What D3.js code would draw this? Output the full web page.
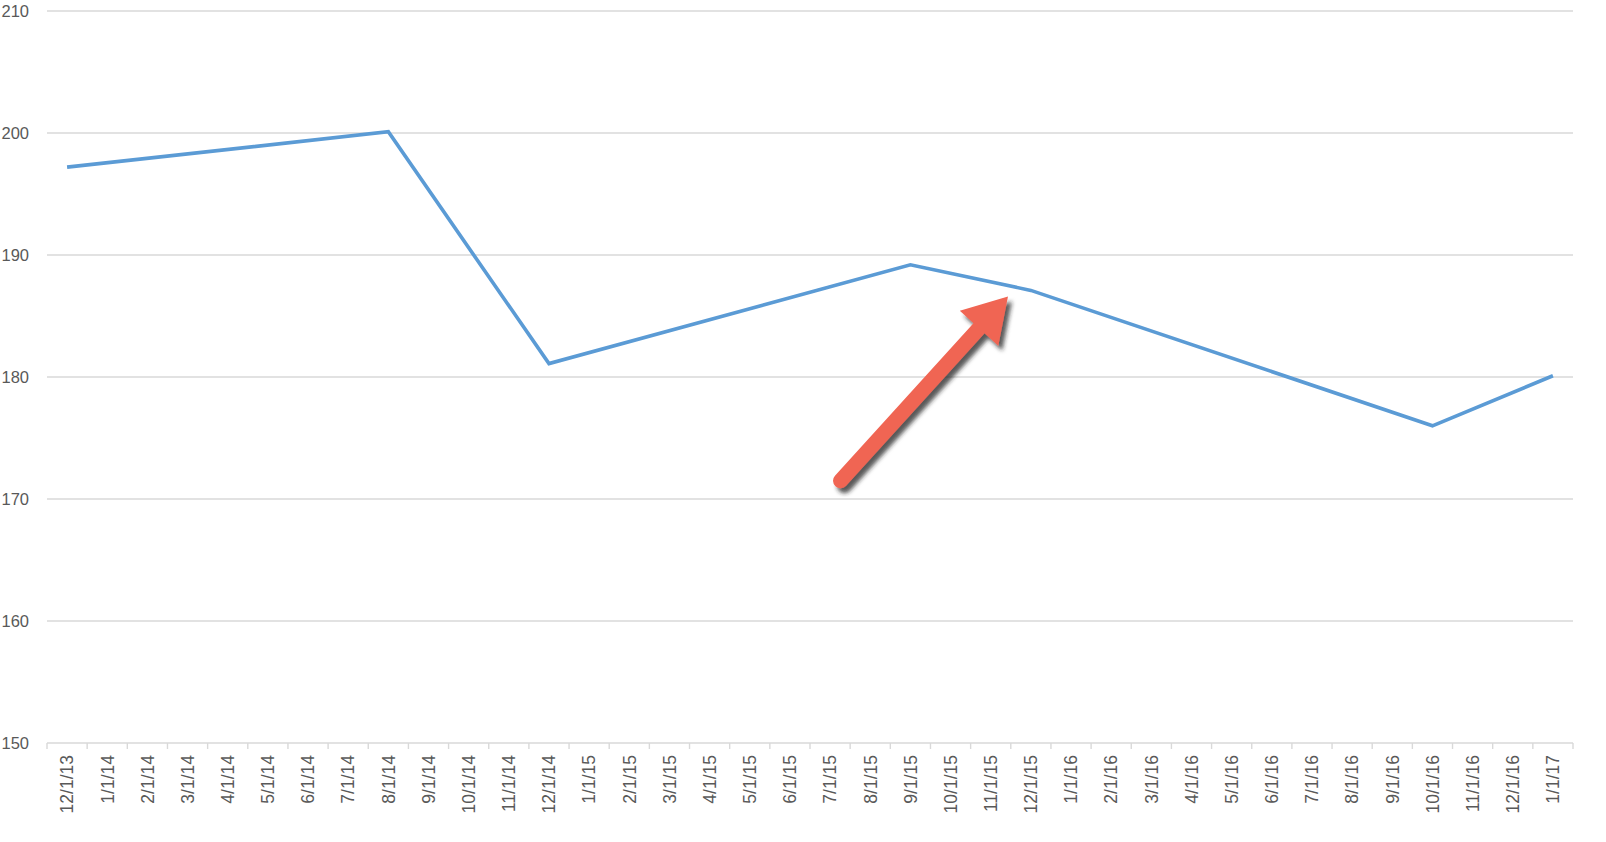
<!DOCTYPE html>
<html>
<head>
<meta charset="utf-8">
<script src="https://cdn.jsdelivr.net/npm/d3@7"></script>
<style>
    html, body { margin: 0; padding: 0; background: #fff; }
    #chart { width: 1606px; height: 842px; }
</style>
</head>
<body>
<div id="chart"></div>
<script>
// Month labels on the category axis
const categories = [
    "12/1/13", "1/1/14", "2/1/14", "3/1/14", "4/1/14", "5/1/14", "6/1/14", "7/1/14",
    "8/1/14", "9/1/14", "10/1/14", "11/1/14", "12/1/14", "1/1/15", "2/1/15", "3/1/15",
    "4/1/15", "5/1/15", "6/1/15", "7/1/15", "8/1/15", "9/1/15", "10/1/15", "11/1/15",
    "12/1/15", "1/1/16", "2/1/16", "3/1/16", "4/1/16", "5/1/16", "6/1/16", "7/1/16",
    "8/1/16", "9/1/16", "10/1/16", "11/1/16", "12/1/16", "1/1/17"
];

// Only the measured months carry a value; the line connects across the gaps
const pointDates = ["12/1/13", "8/1/14", "12/1/14", "9/1/15", "12/1/15", "10/1/16", "1/1/17"];
const pointValues = [197.2, 200.1, 181.1, 189.2, 187.1, 176.0, 180.1];

const yTicks = [150, 160, 170, 180, 190, 200, 210];
const yDomain = [150, 210];

// Callout arrow, in data terms: category, fraction of a band, value
const arrowFrom = { cat: "7/1/15", frac: 0.76, value: 171.5 };
const arrowTo = { cat: "11/1/15", frac: 0.93, value: 186.6 };

const width = 1606;
const height = 842;
const margin = { top: 11, right: 33, bottom: 99, left: 47 };

const svg = d3.select("#chart").append("svg")
    .attr("width", width)
    .attr("height", height)
    .attr("viewBox", [0, 0, width, height]);

const x = d3.scaleBand()
    .domain(categories)
    .range([margin.left, width - margin.right])
    .paddingInner(0)
    .paddingOuter(0);

const y = d3.scaleLinear()
    .domain(yDomain)
    .range([height - margin.bottom, margin.top]);

const gridColor = "#d9d9d9";
const textColor = "#595959";

// Horizontal gridlines
svg.append("g")
    .selectAll("line")
    .data(yTicks)
    .join("line")
    .attr("x1", margin.left)
    .attr("x2", width - margin.right)
    .attr("y1", d => y(d))
    .attr("y2", d => y(d))
    .attr("stroke", gridColor)
    .attr("stroke-width", 1.4);

// Y labels (no axis line)
svg.append("g")
    .selectAll("text")
    .data(yTicks)
    .join("text")
    .attr("x", 29)
    .attr("y", d => y(d))
    .attr("dy", "0.36em")
    .attr("text-anchor", "end")
    .style("font-family", "'Liberation Sans', Arial, sans-serif")
    .style("font-size", "16.5px")
    .style("fill", textColor)
    .text(d => d);

// X axis: ticks on band boundaries, rotated labels
const xAxis = d3.axisBottom(x)
    .tickSize(0)
    .tickFormat("");

const axisG = svg.append("g")
    .attr("transform", `translate(0,${y(yDomain[0])})`)
    .call(xAxis);
axisG.select(".domain").remove();

const boundaries = categories.map(c => x(c)).concat([x.range()[1]]);
axisG.append("g")
    .selectAll("line")
    .data(boundaries)
    .join("line")
    .attr("x1", d => d)
    .attr("x2", d => d)
    .attr("y1", 0)
    .attr("y2", 6)
    .attr("stroke", gridColor)
    .attr("stroke-width", 1.4);

axisG.append("g")
    .selectAll("text")
    .data(categories)
    .join("text")
    .attr("transform", d => `translate(${x(d) + x.bandwidth() / 2},12) rotate(-90)`)
    .attr("dy", "0.36em")
    .attr("text-anchor", "end")
    .style("font-family", "'Liberation Sans', Arial, sans-serif")
    .style("font-size", "17.5px")
    .style("fill", textColor)
    .text(d => d);

// Series line
const points = pointDates.map((d, i) => ({ cat: d, value: pointValues[i] }));

const line = d3.line()
    .x(d => x(d.cat) + x.bandwidth() / 2)
    .y(d => y(d.value));

svg.append("path")
    .datum(points)
    .attr("fill", "none")
    .attr("stroke", "#5b9bd5")
    .attr("stroke-width", 3.6)
    .attr("stroke-linejoin", "miter")
    .attr("d", line);

// Red callout arrow with drop shadow
const defs = svg.append("defs");
defs.append("filter")
    .attr("id", "shadow")
    .attr("x", "-20%").attr("y", "-20%")
    .attr("width", "140%").attr("height", "140%")
    .append("feDropShadow")
    .attr("dx", 4)
    .attr("dy", 5)
    .attr("stdDeviation", 2.2)
    .attr("flood-color", "#222")
    .attr("flood-opacity", 0.75);

const ax = p => x(p.cat) + p.frac * x.step();
const tail = [ax(arrowFrom), y(arrowFrom.value)];
const tip = [ax(arrowTo), y(arrowTo.value)];
const len = Math.hypot(tip[0] - tail[0], tip[1] - tail[1]);
const u = [(tip[0] - tail[0]) / len, (tip[1] - tail[1]) / len];
const n = [-u[1], u[0]];
const headLen = 43;
const headHalf = 26;
const shaftHalf = 7.5;
const back = [tip[0] - u[0] * headLen, tip[1] - u[1] * headLen];

const arrow = svg.append("g").attr("filter", "url(#shadow)");
arrow.append("line")
    .attr("x1", tail[0])
    .attr("y1", tail[1])
    .attr("x2", back[0] + u[0] * 2)
    .attr("y2", back[1] + u[1] * 2)
    .attr("stroke", "#f06553")
    .attr("stroke-width", shaftHalf * 2)
    .attr("stroke-linecap", "round");
arrow.append("path")
    .attr("d", d3.line()([
        tip,
        [back[0] + n[0] * headHalf, back[1] + n[1] * headHalf],
        [back[0] - n[0] * headHalf, back[1] - n[1] * headHalf]
    ]) + "Z")
    .attr("fill", "#f06553");
</script>
</body>
</html>
